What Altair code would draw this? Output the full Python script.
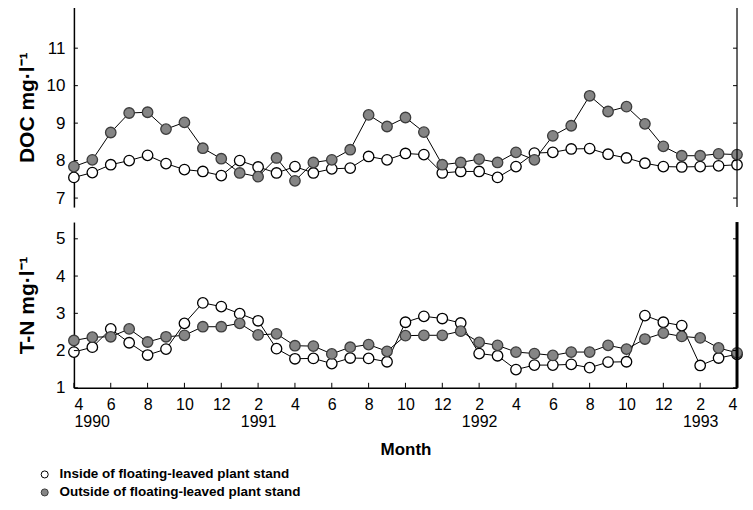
import altair as alt
import pandas as pd

series = ["Inside of floating-leaved plant stand", "Outside of floating-leaved plant stand"]
month_idx = list(range(37))  # 0 = Apr 1990 ... 36 = Apr 1993

doc_inside = [7.55, 7.68, 7.89, 8.00, 8.14, 7.92, 7.76, 7.71, 7.60,
              8.00, 7.83, 7.67, 7.84, 7.67, 7.78, 7.80, 8.11, 8.02, 8.19, 8.16, 7.67,
              7.71, 7.71, 7.55, 7.84, 8.20, 8.22, 8.31, 8.32, 8.17, 8.07, 7.93, 7.84,
              7.83, 7.84, 7.86, 7.89]
doc_outside = [7.84, 8.02, 8.75, 9.27, 9.29, 8.84, 9.02, 8.33, 8.05,
               7.67, 7.57, 8.07, 7.46, 7.95, 8.02, 8.29, 9.22, 8.91, 9.15, 8.76, 7.89,
               7.95, 8.04, 7.95, 8.22, 8.02, 8.66, 8.93, 9.73, 9.31, 9.44, 8.98, 8.38,
               8.13, 8.13, 8.18, 8.16]
tn_inside = [1.96, 2.09, 2.58, 2.21, 1.88, 2.04, 2.73, 3.28, 3.18,
             2.99, 2.80, 2.05, 1.78, 1.79, 1.65, 1.80, 1.79, 1.70, 2.76, 2.92, 2.86,
             2.74, 1.92, 1.86, 1.49, 1.61, 1.61, 1.63, 1.54, 1.69, 1.70, 2.94, 2.76,
             2.67, 1.60, 1.80, 1.90]
tn_outside = [2.27, 2.36, 2.37, 2.58, 2.23, 2.37, 2.41, 2.64, 2.64,
              2.73, 2.42, 2.45, 2.13, 2.12, 1.91, 2.09, 2.16, 1.98, 2.40, 2.41, 2.41,
              2.52, 2.22, 2.14, 1.96, 1.92, 1.87, 1.96, 1.96, 2.14, 2.04, 2.31, 2.47,
              2.38, 2.34, 2.07, 1.94]

tick_months = list(range(0, 37, 2))
years = ["1990", "1991", "1992", "1993"]
year_month_idx = [0, 10, 22, 34]
doc_ticks = [7, 8, 9, 10, 11]
tn_ticks = [1, 2, 3, 4, 5]

W, H1, H2 = 664, 200, 166
FONT = "Liberation Sans"


def long_df(a, b):
    return pd.DataFrame({
        "m": month_idx + month_idx,
        "v": a + b,
        "s": [series[0]] * len(a) + [series[1]] * len(b),
    })


year_expr = "''"
for yr, mi in reversed(list(zip(years, year_month_idx))):
    year_expr = f"(datum.value == {mi} ? '{yr}' : {year_expr})"
label_expr = f"[toString((datum.value + 3) % 12 + 1), {year_expr}]"

xscale = alt.Scale(domain=[0, 36], nice=False)
fill_scale = alt.Scale(domain=series, range=["white", "#858585"])
stroke_scale = alt.Scale(domain=series, range=["black", "#3c3c3c"])
one = pd.DataFrame({"k": [0]})

legend = alt.Legend(
    title=None, orient="none", legendX=-36, legendY=461, direction="vertical",
    symbolType="circle", symbolSize=50, symbolStrokeColor="black", symbolStrokeWidth=1,
    labelFont=FONT, labelFontSize=13.5, labelFontWeight="bold", labelColor="black",
    rowPadding=3, labelOffset=8, labelLimit=400,
)


def panel(df, dom, ticks, title, h, bottom):
    yscale = alt.Scale(domain=dom, nice=False, zero=False)
    if bottom:
        xaxis = alt.Axis(values=tick_months, labelExpr=label_expr, title="Month",
                         ticks=False, grid=False, domainColor="black", domainWidth=1.5,
                         labelFont=FONT, labelFontSize=16, labelColor="black",
                         labelPadding=9, labelLineHeight=17, labelAngle=0,
                         labelOverlap=False, labelFlush=True,
                         titleFont=FONT, titleFontSize=17, titleFontWeight="bold",
                         titleColor="black", titlePadding=12)
    else:
        xaxis = None
    yaxis = alt.Axis(values=ticks, title=title, ticks=False, grid=False,
                     domainColor="black", domainWidth=1.5, labelOverlap=False,
                     labelFont=FONT, labelFontSize=17, labelColor="black", labelPadding=9,
                     titleFont=FONT, titleFontSize=21, titleFontWeight="bold",
                     titleColor="black", titleX=-36)
    x_enc = alt.X("m:Q", scale=xscale, axis=xaxis)
    base = alt.Chart(df).encode(x=x_enc, y=alt.Y("v:Q", scale=yscale, axis=yaxis))
    line = base.mark_line(color="black", strokeWidth=1).encode(detail="s:N")
    pts = base.mark_circle(size=110, opacity=1, strokeWidth=1.3).encode(
        fill=alt.Fill("s:N", scale=fill_scale, legend=legend),
        stroke=alt.Stroke("s:N", scale=stroke_scale, legend=None),
    )
    tdf = pd.DataFrame({"t": ticks})
    yt_left = alt.Chart(tdf).mark_rule(color="black", strokeWidth=1).encode(
        y=alt.Y("t:Q", scale=yscale, axis=yaxis), x=alt.value(0), x2=alt.value(4))
    yt_right = alt.Chart(tdf).mark_rule(color="black", strokeWidth=1).encode(
        y=alt.Y("t:Q", scale=yscale, axis=yaxis), x=alt.value(W - 4), x2=alt.value(W))
    layers = [yt_left, yt_right]
    if bottom:
        xt = alt.Chart(pd.DataFrame({"m": tick_months})).mark_rule(color="black").encode(
            x=x_enc, y=alt.value(h), y2=alt.value(h - 5))
        right = alt.Chart(one).mark_rule(color="black", strokeWidth=3).encode(
            x=alt.value(W), y=alt.value(0), y2=alt.value(h))
        layers += [xt, right]
    else:
        top = alt.Chart(one).mark_rule(color="black", strokeWidth=1.5).encode(
            x=alt.value(0), x2=alt.value(W), y=alt.value(0))
        right = alt.Chart(one).mark_rule(color="black", strokeWidth=1.2).encode(
            x=alt.value(W), y=alt.value(0), y2=alt.value(h))
        layers += [top, right]
    return alt.layer(line, pts, *layers).properties(width=W, height=h)


top = panel(long_df(doc_inside, doc_outside), [6.76, 12.09], doc_ticks, "DOC mg·l⁻¹", H1, False)
bot = panel(long_df(tn_inside, tn_outside), [1.0, 5.45], tn_ticks, "T-N mg·l⁻¹", H2, True)

chart = alt.vconcat(top, bot, spacing=12).properties(
    padding={"left": 8, "top": -2, "right": 0, "bottom": 0},
    background="white",
).configure_view(stroke=None)

chart.save("out.html", embed_options={"renderer": "svg", "actions": False})
